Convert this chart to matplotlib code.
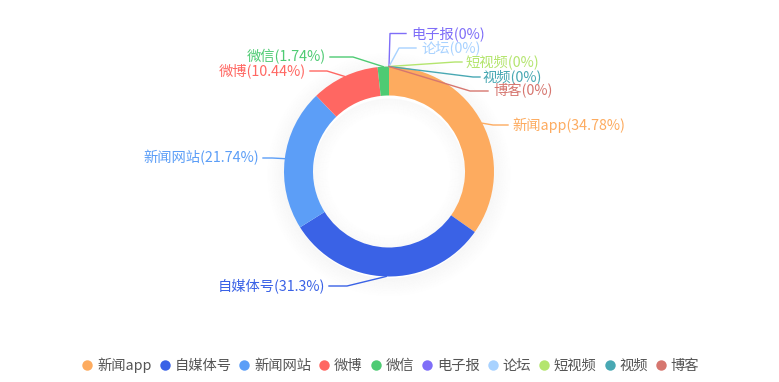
import numpy as np
import matplotlib.pyplot as plt
from matplotlib.lines import Line2D
from matplotlib.patches import Wedge

plt.rcParams['font.family'] = ['Noto Sans CJK SC', 'DejaVu Sans']

# data
names = ['新闻app', '自媒体号', '新闻网站', '微博', '微信', '电子报', '论坛', '短视频', '视频', '博客']
values = [34.78, 31.3, 21.74, 10.44, 1.74, 0, 0, 0, 0, 0]
pct_labels = ['34.78%', '31.3%', '21.74%', '10.44%', '1.74%', '0%', '0%', '0%', '0%', '0%']
colors = ['#fdab5f', '#3a62e6', '#5c9ef7', '#ff6762', '#4ecb73',
          '#7f6ef8', '#a8d2ff', '#b4e56e', '#48a8b3', '#d6766f']

W, H = 779, 382
cx, cy = 389, 171.5
r_out, r_in = 105, 76

# label layout in pixel coords (bend x, bend y, line end x, text x, ha)
label_pos = [
    (493, 125, 508, 512, 'left'),
    (347, 286, 329, 325, 'right'),
    (272, 158, 263, 259, 'right'),
    (327, 71, 310, 306, 'right'),
    (353, 57, 330, 326, 'right'),
    (390, 33.5, 406, 411, 'left'),
    (399, 48, 416, 421, 'left'),
    (455, 62, 462, 465, 'left'),
    (473, 77, 480, 482, 'left'),
    (470, 91, 488, 493, 'left'),
]


def fy(y):
    return H - y


fig = plt.figure(figsize=(W / 100, H / 100), dpi=100)
ax = fig.add_axes([0, 0, 1, 1])

# soft shadow
for i in range(16):
    a = 0.03 * (1 - i / 16)
    ax.add_patch(Wedge((cx, fy(cy) - 3), r_out + i * 1.2, 0, 360,
                       width=1.3, color='black', alpha=a, lw=0, zorder=1))
    ax.add_patch(Wedge((cx, fy(cy) - 3), r_in - i * 1.0, 0, 360,
                       width=1.1, color='black', alpha=a * 0.8, lw=0, zorder=1))

wedges, _ = ax.pie(values, colors=colors, radius=r_out, center=(cx, fy(cy)),
                   startangle=90, counterclock=False,
                   wedgeprops=dict(width=r_out - r_in, linewidth=0))
for w in wedges:
    w.set_zorder(2)
ax.set_xlim(0, W)
ax.set_ylim(0, H)
ax.set_aspect('equal')
ax.axis('off')

total = sum(values)
start = 0.0
for i, v in enumerate(values):
    mid = (start + v / 2) / total * 2 * np.pi
    start += v
    ax0 = cx + r_out * np.sin(mid)
    ay0 = cy - r_out * np.cos(mid)
    bx, by, ex, tx, ha = label_pos[i]
    ax.plot([ax0, bx, ex], [fy(ay0), fy(by), fy(by)], color=colors[i], lw=1, zorder=3)
    ax.text(tx, fy(by), f'{names[i]}({pct_labels[i]})', color=colors[i],
            fontsize=10.3, ha=ha, va='center', zorder=4)

handles = [Line2D([0], [0], marker='o', color='none', markerfacecolor=c,
                  markeredgecolor='none', markersize=7.5) for c in colors]
ax.legend(handles, names, loc='center', bbox_to_anchor=(391 / W, 1 - 365 / H),
          ncol=10, frameon=False, fontsize=10.3, handlelength=0.65,
          handletextpad=0.35, columnspacing=0.6, labelcolor='#555555',
          borderaxespad=0, borderpad=0)

fig.savefig('out.png', dpi=100)
